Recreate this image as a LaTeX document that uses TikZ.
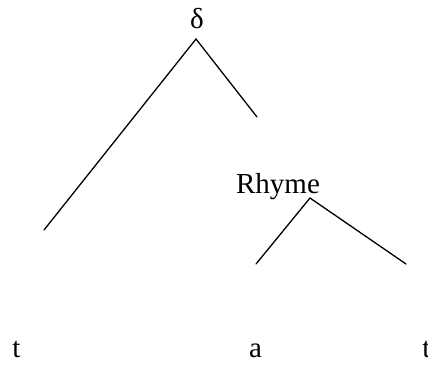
\documentclass[tikz,border=0pt]{standalone}
\usepackage{fontspec}
\setmainfont{Liberation Serif}
\begin{document}
\begin{tikzpicture}[x=1pt,y=-1pt,
  lbl/.style={inner sep=0pt,anchor=base,font=\fontsize{29}{34}\selectfont},
  branch/.style={line width=1.3pt,line cap=round}]
\useasboundingbox (0,0) rectangle (428,364);
\node[lbl] (delta) at (197,28) {δ};
\node[lbl] (rhyme) at (278,193) {Rhyme};
\node[lbl] (t1) at (16.5,357) {t};
\node[lbl] (a) at (255.5,357) {a};
\node[lbl] (t2) at (426.5,357) {t};
\coordinate (dtop) at (196,39);
\coordinate (dl) at (44,230);
\coordinate (dr) at (257,117);
\coordinate (rtop) at (310,198);
\coordinate (rl) at (256,264);
\coordinate (rr) at (406,264);
\draw[branch] (dl) -- (dtop) -- (dr);
\draw[branch] (rl) -- (rtop) -- (rr);
\end{tikzpicture}
\end{document}
